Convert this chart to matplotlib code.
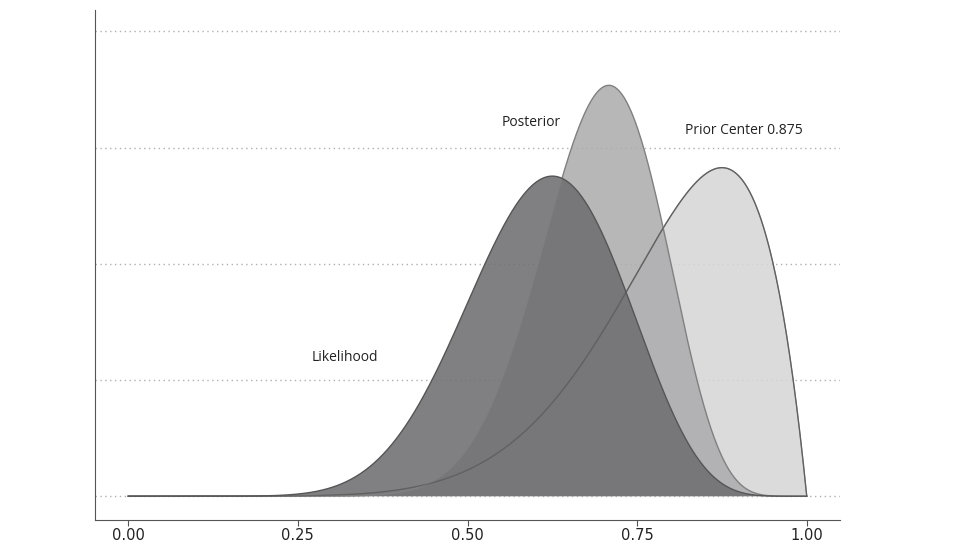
import numpy as np
import matplotlib
matplotlib.use("Agg")
import matplotlib.pyplot as plt
from math import lgamma, exp

tick_vals = [0.0, 0.25, 0.5, 0.75, 1.0]
tick_labels = ["0.00", "0.25", "0.50", "0.75", "1.00"]
grid_vals = [0, 1.25, 2.5, 3.75, 5.0]
# Beta distribution parameters (a, b) read from peak positions / heights
prior_ab = (8, 2)
likelihood_ab = (11, 7)
posterior_ab = (18, 8)
labels = ["Prior Center 0.875", "Likelihood", "Posterior"]
label_pos = [(0.82, 3.9), (0.27, 1.45), (0.55, 3.98)]

def beta_pdf(x, a, b):
    c = exp(lgamma(a + b) - lgamma(a) - lgamma(b))
    return c * x ** (a - 1) * (1 - x) ** (b - 1)

x = np.linspace(0, 1, 600)
fig = plt.figure(figsize=(9.6, 5.4), dpi=100)
ax = fig.add_axes([95/960, 20/540, 745/960, 510/540])
ax.set_xlim(-0.049, 1.049)
ax.set_ylim(-0.256, 5.23)
for g in grid_vals:
    ax.axhline(g, color="#b0b0b0", lw=1, ls=(0, (1, 2.5)), zorder=0)

styles = [(prior_ab, "#d6d6d8", "#6a6a6a"), (posterior_ab, "#adadaf", "#808080"),
          (likelihood_ab, "#6f6f72", "#555555")]
for (a, b), fc, ec in styles:
    y = beta_pdf(x, a, b)
    ax.fill_between(x, 0, y, facecolor=fc, alpha=0.88, edgecolor="none", zorder=2)
    ax.plot(x, y, color=ec, lw=1, zorder=3)
yp = beta_pdf(x, *prior_ab)
ax.plot(x, yp, color="#5a5a5a", lw=0.8, alpha=0.6, zorder=4)

for t, (px, py) in zip(labels, label_pos):
    ax.text(px, py, t, fontsize=10, color="#222222", fontfamily="Open Sans")

ax.set_xticks(tick_vals)
ax.set_xticklabels(tick_labels, fontsize=10.5, color="#222222")
ax.set_yticks([])
for s in ["top", "right"]:
    ax.spines[s].set_visible(False)
for s in ["left", "bottom"]:
    ax.spines[s].set_color("#555555")
ax.tick_params(axis="x", length=4, color="#555555", pad=2)
fig.savefig("out.png", dpi=100)
